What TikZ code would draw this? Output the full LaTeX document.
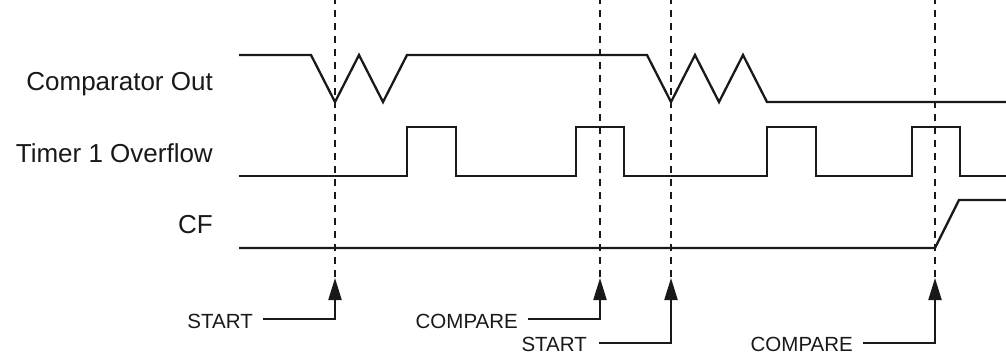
\documentclass[tikz,border=0pt]{standalone}
\usepackage{fontspec}
\setmainfont{Liberation Sans}
\usetikzlibrary{arrows.meta}
\begin{document}
\begin{tikzpicture}[x=1pt,y=-1pt,
  sig/.style={line width=2.3pt,line join=miter,color=black!90},
  guide/.style={line width=1.1pt,dash pattern=on 7pt off 6pt,color=black!90},
  pointer/.style={line width=2.1pt,color=black!90,-{Triangle[length=22pt,width=13pt]}},
  siglabel/.style={anchor=base east,inner sep=0pt,font=\fontsize{26}{30}\selectfont,text=black!90},
  evlabel/.style={anchor=base east,inner sep=0pt,font=\fontsize{20.5}{24}\selectfont,text=black!90}]
\useasboundingbox (0,0) rectangle (1006,354);
\begin{scope}
\clip (0,0) rectangle (1006,354);
% signal labels
\node[siglabel] (lcmp) at (213,90) {Comparator Out};
\node[siglabel] (ltmr) at (213,162) {Timer 1 Overflow};
\node[siglabel] (lcf) at (213,233) {CF};
% guide lines and arrow tips
\coordinate (g1) at (335,-3); \coordinate (tip1) at (335,278);
\coordinate (g2) at (600,-3); \coordinate (tip2) at (600,278);
\coordinate (g3) at (671,-3); \coordinate (tip3) at (671,278);
\coordinate (g4) at (935,-3); \coordinate (tip4) at (935,278);
\draw[guide] (g1) -- (tip1);
\draw[guide] (g2) -- (tip2);
\draw[guide] (g3) -- (tip3);
\draw[guide] (g4) -- (tip4);
% Comparator Out
\draw[sig] (239,55) -- (311,55) -- (335,102) -- (359,55) -- (383,102) -- (407,55)
  -- (647,55) -- (671,102) -- (695,55) -- (719,102) -- (743,55) -- (767,102) -- (1010,102);
% Timer 1 Overflow
\draw[sig] (239,176) -- (407,176) -- (407,127) -- (456,127) -- (456,176)
  -- (576,176) -- (576,127) -- (624,127) -- (624,176)
  -- (767,176) -- (767,127) -- (816,127) -- (816,176)
  -- (912,176) -- (912,127) -- (960,127) -- (960,176) -- (1010,176);
% CF
\draw[sig] (239,248) -- (935,248) -- (959,200) -- (1010,200);
% event labels
\node[evlabel] (start1) at (253,328) {START};
\node[evlabel] (cmp1) at (518,328) {COMPARE};
\node[evlabel] (start2) at (587,351) {START};
\node[evlabel] (cmp2) at (853,351) {COMPARE};
\draw[pointer] ([xshift=10pt,yshift=9pt]start1.base east) -| (tip1);
\draw[pointer] ([xshift=10pt,yshift=9pt]cmp1.base east) -| (tip2);
\draw[pointer] ([xshift=12pt,yshift=8pt]start2.base east) -| (tip3);
\draw[pointer] ([xshift=10pt,yshift=8pt]cmp2.base east) -| (tip4);
\end{scope}
\end{tikzpicture}
\end{document}
